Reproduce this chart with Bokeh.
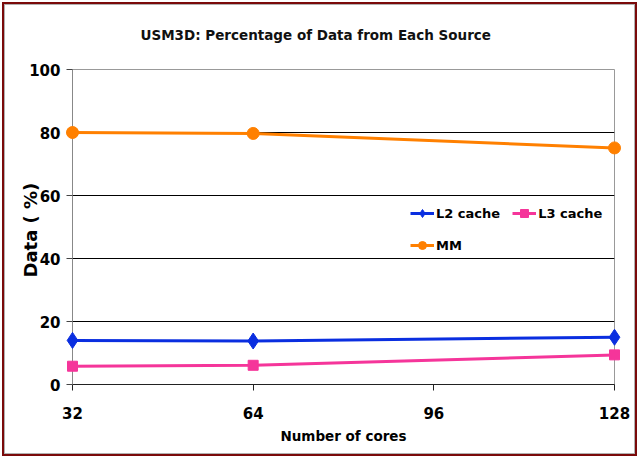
from bokeh.plotting import figure
from bokeh.models import Legend, LegendItem, Range1d, FixedTicker
from bokeh.embed import file_html
from bokeh.resources import INLINE

cores = [32, 64, 128]
l2_cache = [14.0, 13.8, 15.0]
l3_cache = [5.8, 6.1, 9.4]
mm = [80.0, 79.7, 75.1]
x_ticks = [32, 64, 96, 128]
y_ticks = [0, 20, 40, 60, 80, 100]

FONT = "DejaVu Sans"

p = figure(width=639, height=458, output_backend="svg", toolbar_location=None,
           x_range=Range1d(32, 128), y_range=Range1d(0, 100),
           title="USM3D: Percentage of Data from Each Source",
           min_border_left=72, min_border_right=25, min_border_top=69, min_border_bottom=74)

# outer page frame: dark red ring with a thin grey inner line
p.border_fill_color = None
p.styles = {
    "background": "white",
    "box-shadow": "inset 0 0 0 2px white, inset 0 0 0 4px #7a0a0a, inset 0 0 0 5px #b0b0b0",
}

p.title.align = "left"
p.title.offset = 68
p.title.vertical_align = "top"
p.title.text_font = FONT
p.title.text_font_size = "13.5px"
p.title.text_font_style = "bold"
p.title.text_color = "#111111"
p.title.standoff = 50

p.outline_line_color = "#999999"
p.outline_line_width = 1

p.xgrid.visible = False
p.ygrid.ticker = FixedTicker(ticks=[20, 40, 60, 80])
p.ygrid.grid_line_color = "#000000"
p.ygrid.grid_line_width = 1

p.xaxis.ticker = FixedTicker(ticks=x_ticks)
p.yaxis.ticker = FixedTicker(ticks=y_ticks)
for ax in (p.xaxis[0], p.yaxis[0]):
    ax.major_label_text_font = FONT
    ax.major_label_text_font_size = "15px"
    ax.major_label_text_font_style = "bold"
    ax.major_label_text_color = "#000000"
    ax.axis_label_text_font = FONT
    ax.axis_label_text_font_style = "bold"
    ax.axis_label_text_color = "#000000"
    ax.minor_tick_line_color = None
    ax.major_tick_in = 0
    ax.major_tick_out = 6
ax_x = p.xaxis[0]
ax_x.axis_line_color = "#222222"
ax_x.major_tick_line_color = "#222222"
ax_x.major_label_standoff = 16
ax_x.axis_label = "Number of cores"
ax_x.axis_label_text_font_size = "13.5px"
ax_x.axis_label_standoff = 6
ax_y = p.yaxis[0]
ax_y.axis_line_color = "#888888"
ax_y.major_tick_line_color = "#444444"
ax_y.major_label_standoff = 6
ax_y.axis_label = "Data  ( %)"
ax_y.axis_label_text_font_size = "18px"
ax_y.axis_label_standoff = -15

series = [
    ("L2 cache", l2_cache, "#0a2ee0", "diamond", 16),
    ("L3 cache", l3_cache, "#f5359a", "square", 10),
    ("MM", mm, "#ff8000", "circle", 12),
]
items = {}
for name, vals, color, marker, size in series:
    r1 = p.line(cores, vals, line_color=color, line_width=3, level="overlay")
    r2 = p.scatter(cores, vals, marker=marker, size=size, fill_color=color,
                   line_color=color, level="overlay")
    items[name] = LegendItem(label=name, renderers=[r1, r2])

legend = Legend(items=[items["L2 cache"], items["MM"], items["L3 cache"]], ncols=2,
                location=(338, 129),
                label_text_font=FONT, label_text_font_size="13px",
                label_text_font_style="bold", label_text_color="#000000",
                background_fill_color="white", background_fill_alpha=1.0,
                border_line_color=None, glyph_width=24, glyph_height=20,
                label_standoff=2, spacing=12, padding=10, margin=0)
p.add_layout(legend, "center")

open("out.html", "w").write(file_html(p, INLINE))
